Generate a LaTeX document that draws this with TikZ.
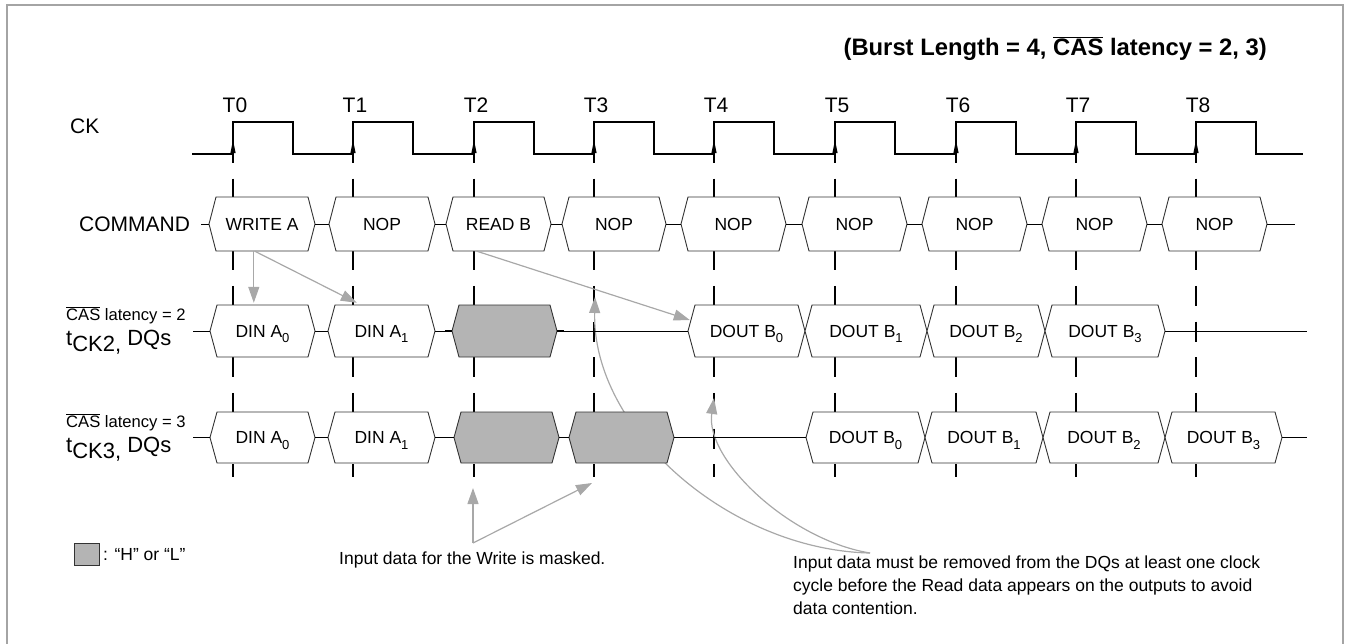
\documentclass[tikz,border=0pt]{standalone}
\usepackage{fontspec}
\setmainfont{Liberation Sans}
\usetikzlibrary{arrows.meta,calc}
\definecolor{ngray}{HTML}{A8A8A8}
\definecolor{boxfill}{HTML}{B4B4B4}
\definecolor{framegray}{HTML}{A4A4A4}
\definecolor{outl}{HTML}{333333}
\newcommand{\lsub}[1]{\raisebox{-0.3em}{\fontsize{13}{13}\selectfont #1}}
\newcommand{\hexbox}[7]{%
  \draw[boxline,fill=#6] (#2,#4) -- (#2+7,#4-#5) -- (#3-7,#4-#5) -- (#3,#4) -- (#3-7,#4+#5) -- (#2+7,#4+#5) -- cycle;
  \node[boxtext,minimum width={(#3-#2)*1pt},minimum height={2*#5*1pt}] (#1) at ({(#2+#3)/2},#4) {#7};}
\tikzset{
  boxline/.style={draw=outl, line width=0.9pt, line join=miter},
  boxtext/.style={inner sep=0pt, font=\fontsize{17.5}{21}\selectfont, text height=12.6pt, text depth=0pt},
  bus/.style={line width=1pt},
  tickline/.style={line width=1.1pt, dash pattern=on 20pt off 15.7pt},
  clk/.style={line width=1.2pt},
  garrow/.style={draw=ngray, line width=1.2pt, -{Triangle[length=16pt,width=11pt,fill=ngray]}},
  biglabel/.style={inner sep=0pt, font=\fontsize{21}{25}\selectfont},
  dqlabel/.style={inner sep=0pt, font=\fontsize{22}{26}\selectfont},
  smlabel/.style={inner sep=0pt, font=\fontsize{17.5}{23}\selectfont},
  caslabel/.style={inner sep=0pt, font=\fontsize{16.6}{20}\selectfont},
}
\begin{document}
\begin{tikzpicture}[x=1pt,y=-1pt]
\useasboundingbox (0,0) rectangle (1350,643);
% frame
\draw[framegray, line width=2.5pt] (7,650) -- (7,5) -- (1343,5) -- (1343,650);
% title
\node[anchor=base east, inner sep=0pt, font=\fontsize{23.8}{28}\selectfont\bfseries] (title) at (1267,55) {(Burst Length = 4, $\overline{\mbox{CAS}}$ latency = 2, 3)};
% left labels
\node[biglabel, anchor=base west] (ck) at (70,133) {CK};
\node[biglabel, anchor=base west] (cmd) at (79,231) {COMMAND};
\node[caslabel, anchor=base west] (cas2) at (66,320) {$\overline{\mbox{CAS}}$ latency = 2};
\node[dqlabel, anchor=base west] (dq2) at (66,345) {t\raisebox{-6pt}{CK2,} DQs};
\node[caslabel, anchor=base west] (cas3) at (66,427) {$\overline{\mbox{CAS}}$ latency = 3};
\node[dqlabel, anchor=base west] (dq3) at (66,452) {t\raisebox{-6pt}{CK3,} DQs};
% T labels
\foreach \t [count=\i from 0] in {233,353,474,594,714,835,956,1076,1196}
  \node[biglabel, anchor=base] (tl\i) at (\t+2,112) {T\i};
% clock
\draw[clk] (192,154) \foreach \t in {233,353,474,594,714,835,956,1076,1196} { -- (\t,154) -- (\t,122) -- (\t+60,122) -- (\t+60,154) } -- (1303,154);
\foreach \t in {233,353,474,594,714,835,956,1076,1196}
  \fill (\t-2.6,153) -- (\t,140) -- (\t+2.6,153) -- cycle;
% dashed clock lines
\foreach \t in {233,353,474,594,714,835,956,1076,1196}
  \draw[tickline] (\t,143) -- (\t,477);
% gray curved annotations (behind boxes)
\coordinate (rm) at (870,553);
\coordinate (tipA) at (595,297);
\coordinate (tipB) at (714,398);
\draw[garrow] (rm) .. controls (730,550) and (592,430) .. (tipA);
\draw[garrow] (rm) .. controls (790,540) and (705,460) .. (tipB);
% command row
\hexbox{c0}{209}{315}{224}{27}{white}{WRITE A}
\hexbox{c1}{329}{435}{224}{27}{white}{NOP}
\hexbox{c2}{446}{551}{224}{27}{white}{READ B}
\hexbox{c3}{562}{666}{224}{27}{white}{NOP}
\hexbox{c4}{681}{786}{224}{27}{white}{NOP}
\hexbox{c5}{802}{907}{224}{27}{white}{NOP}
\hexbox{c6}{922}{1027}{224}{27}{white}{NOP}
\hexbox{c7}{1042}{1147}{224}{27}{white}{NOP}
\hexbox{c8}{1162}{1267}{224}{27}{white}{NOP}
\coordinate (cs) at (201,224);
\coordinate (ce) at (1295,224);
\draw[bus] (cs) -- (c0.west);
\draw[bus] (c0.east) -- (c1.west);
\draw[bus] (c1.east) -- (c2.west);
\draw[bus] (c2.east) -- (c3.west);
\draw[bus] (c3.east) -- (c4.west);
\draw[bus] (c4.east) -- (c5.west);
\draw[bus] (c5.east) -- (c6.west);
\draw[bus] (c6.east) -- (c7.west);
\draw[bus] (c7.east) -- (c8.west);
\draw[bus] (c8.east) -- (ce);
% CAS latency 2 row
\hexbox{a0}{210}{315}{331}{26}{white}{DIN A\lsub{0}}
\hexbox{a1}{328}{435}{331}{26}{white}{DIN A\lsub{1}}
\hexbox{g2}{452}{557}{331}{26}{boxfill}{}
\hexbox{b0}{688}{805}{331}{26}{white}{DOUT B\lsub{0}}
\hexbox{b1}{805}{927}{331}{26}{white}{DOUT B\lsub{1}}
\hexbox{b2}{927}{1045}{331}{26}{white}{DOUT B\lsub{2}}
\hexbox{b3}{1045}{1165}{331}{26}{white}{DOUT B\lsub{3}}
\coordinate (as) at (193,331);
\coordinate (ae) at (1307,331);
\draw[bus] (as) -- (a0.west);
\draw[bus] (a0.east) -- (a1.west);
\draw[bus] (a1.east) -- (g2.west);
\draw[bus] (g2.east) -- (b0.west);
\draw[bus] (b3.east) -- (ae);
\draw[line width=2.2pt] ([xshift=-7pt]g2.west) -- (g2.west);
\draw[line width=2.2pt] (g2.east) -- ([xshift=7pt]g2.east);
% CAS latency 3 row
\hexbox{p0}{210}{315}{437.5}{25.5}{white}{DIN A\lsub{0}}
\hexbox{p1}{328}{435}{437.5}{25.5}{white}{DIN A\lsub{1}}
\hexbox{q1}{454}{559}{437.5}{25.5}{boxfill}{}
\hexbox{q2}{569}{674}{437.5}{25.5}{boxfill}{}
\hexbox{r0}{806}{925}{437.5}{25.5}{white}{DOUT B\lsub{0}}
\hexbox{r1}{925}{1043}{437.5}{25.5}{white}{DOUT B\lsub{1}}
\hexbox{r2}{1043}{1165}{437.5}{25.5}{white}{DOUT B\lsub{2}}
\hexbox{r3}{1165}{1282}{437.5}{25.5}{white}{DOUT B\lsub{3}}
\coordinate (ps) at (193,437.5);
\coordinate (pe) at (1307,437.5);
\draw[bus] (ps) -- (p0.west);
\draw[bus] (p0.east) -- (p1.west);
\draw[bus] (p1.east) -- (q1.west);
\draw[bus] (q1.east) -- (q2.west);
\draw[bus] (q2.east) -- (r0.west);
\draw[bus] (r3.east) -- (pe);
% straight gray arrows
\draw[garrow] ([xshift=45pt]c0.south west) -- ([xshift=44pt,yshift=2pt]a0.north west);
\draw[garrow] ([xshift=46pt]c0.south west) -- ([xshift=29pt,yshift=2pt]a1.north west);
\draw[garrow] ([xshift=31pt]c2.south west) -- ([shift={(2,-11)}]b0.west);
% legend
\node[draw=outl, line width=0.9pt, fill=boxfill, minimum width=25pt, minimum height=22pt, inner sep=0pt] (leg) at (86.5,554) {};
\node[smlabel, anchor=base west] (legt) at (103,560) {: ``H'' or ``L''};
% masked note
\node[smlabel, anchor=base west] (mask) at (339,564) {Input data for the Write is masked.};
\coordinate (mk) at (473,543);
\coordinate (mka) at (473,488);
\coordinate (mkb) at (592,483);
\draw[garrow] (mk) -- (mka);
\draw[garrow] (mk) -- (mkb);
% removal note
\node[smlabel, anchor=north west, align=left] (rmv) at (793,556) {Input data must be removed from the DQs at least one clock\\cycle before the Read data appears on the outputs to avoid\\data contention.};
\end{tikzpicture}
\end{document}
